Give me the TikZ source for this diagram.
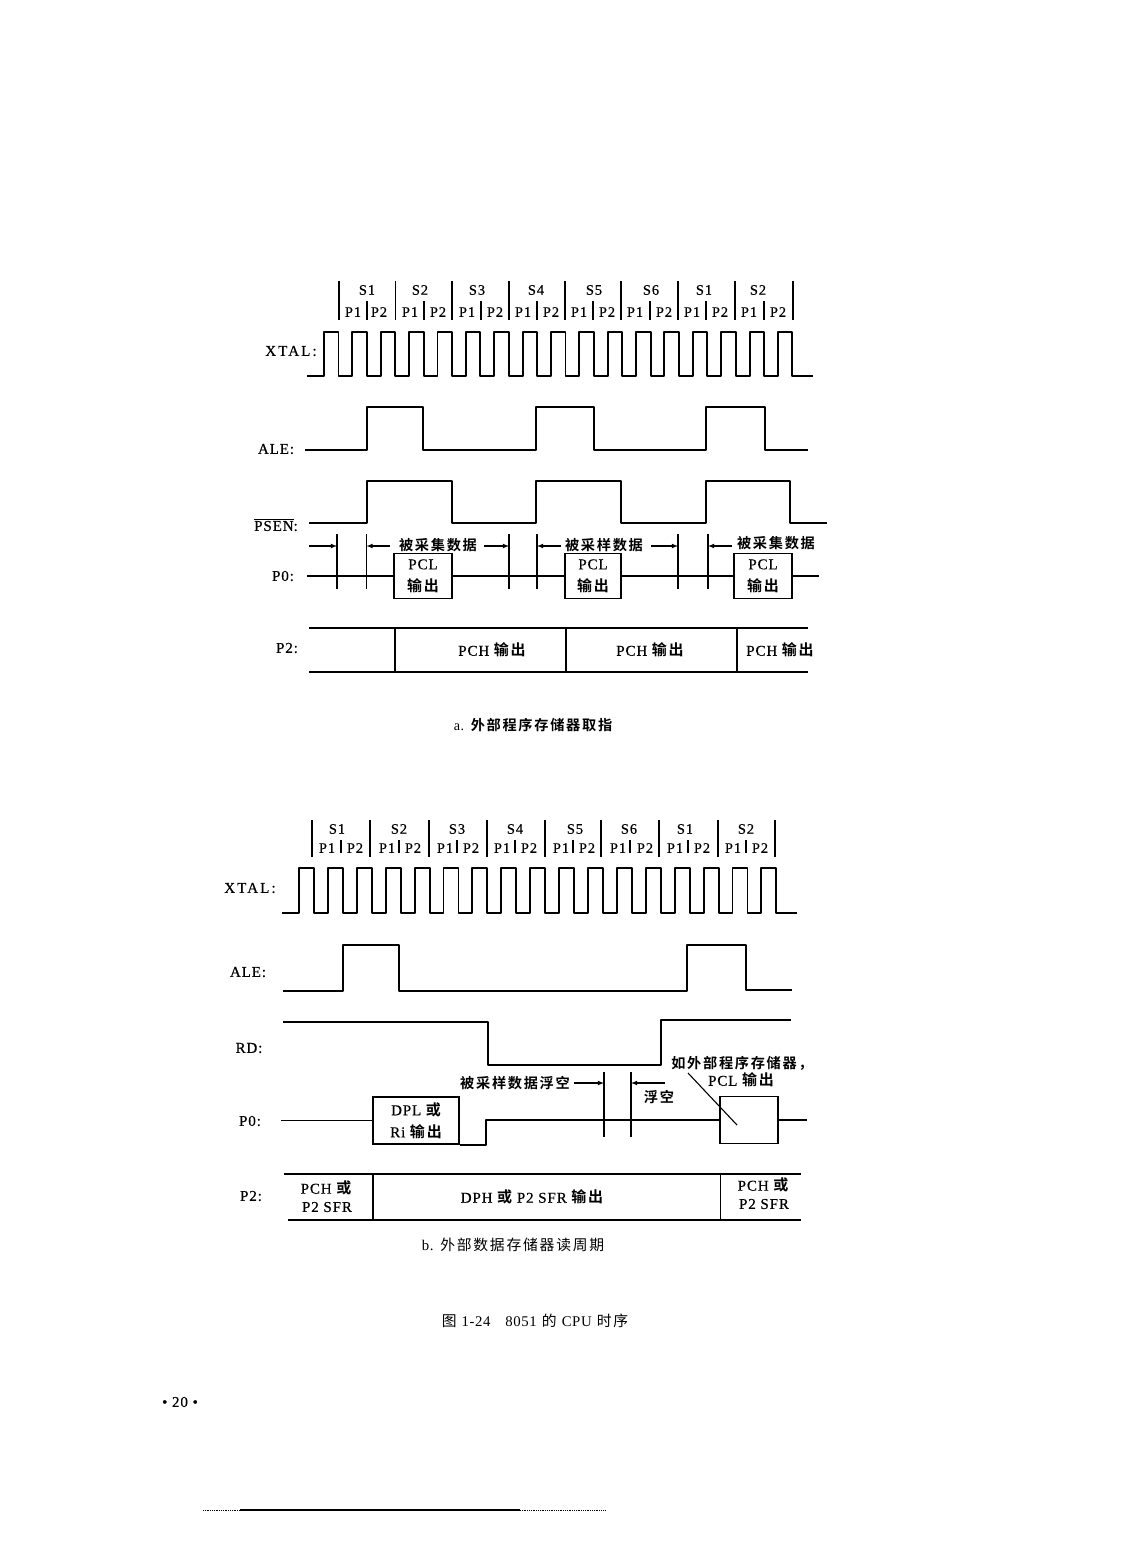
\documentclass[tikz,border=0pt]{standalone}
\usepackage{fontspec}
\setmainfont[LetterSpace=6,FakeBold=0.5]{Liberation Serif}
\newfontfamily\plainrm[LetterSpace=4]{Liberation Serif}
\newfontfamily\widerm[LetterSpace=14,FakeBold=0.5]{Liberation Serif}
\newfontfamily\cjk[LetterSpace=12]{Noto Sans CJK SC}
\newfontfamily\cjkb[LetterSpace=12]{Noto Sans CJK SC Bold}
\begin{document}
\begin{tikzpicture}[x=1pt,y=-1pt,
		wave/.style={line width=1.9pt,line join=round},
		thinw/.style={line width=1.3pt},
		tick/.style={line width=1.1pt},
		dim/.style={line width=1.1pt,-latex},
		lbl/.style={inner sep=0pt,font=\fontsize{15}{17}\selectfont},
		hdr/.style={inner sep=0pt,font=\fontsize{14.5}{17}\selectfont},
		note/.style={inner sep=0pt,font=\fontsize{14.2}{17}\selectfont\cjkb},
		caption/.style={inner sep=0pt,font=\fontsize{14.8}{17}\selectfont\cjk},
		outbox/.style={draw,line width=1.9pt,inner sep=0pt,align=center,font=\fontsize{15}{22}\selectfont}]
	\useasboundingbox (0,0) rectangle (1122,1568);
	% a: header
	\foreach \x in {339,395.5,452,509,565,621,678,735,793} \draw[tick] (\x,281) -- (\x,320);
	\foreach \x in {367,424,481,537,593,650,706,764} \draw[tick] (\x,301) -- (\x,320);
	\foreach \t/\x/\n in {S1/367/sa1,S2/420/sa2,S3/477/sa3,S4/536/sa4,S5/594/sa5,S6/651/sa6,S1/704/sa7,S2/758/sa8} \node[hdr] (\n) at (\x,290) {\t};
	\foreach \x/\n in {353/a1,410/a2,467/a3,523/a4,579/a5,635/a6,692/a7,749/a8} \node[hdr] (p\n) at (\x,312) {P1};
	\foreach \x/\n in {379/a1,438/a2,495/a3,551/a4,607/a5,664/a6,720/a7,778/a8} \node[hdr] (q\n) at (\x,312) {P2};
	% a: waves
	\node[lbl] (xtala) at (291,351) {\widerm XTAL:};
	\draw[wave] (307,376) foreach \k in {0,...,16} { -- ({324+28.37*\k},376) -- ({324+28.37*\k},332) -- ({338.5+28.37*\k},332) -- ({338.5+28.37*\k},376) } -- (813,376);
	\node[lbl] (alea) at (276,449) {ALE:};
	\draw[wave] (305,450) -- (367,450) -- (367,407) -- (423,407) -- (423,450) -- (536,450) -- (536,407) -- (594,407) -- (594,450) -- (706,450) -- (706,407) -- (765,407) -- (765,450) -- (808,450);
	\node[lbl] (psena) at (276,525) {$\overline{\mbox{PSEN}}$:};
	\draw[wave] (309,523) -- (367,523) -- (367,481) -- (452,481) -- (452,523) -- (536,523) -- (536,481) -- (621,481) -- (621,523) -- (706,523) -- (706,481) -- (790,481) -- (790,523) -- (827,523);
	% a: P0
	\node[lbl] (p0a) at (283,576) {P0:};
	\node[outbox,minimum width=58pt,minimum height=45pt] (pcl1) at (423,576) {PCL\\{\cjkb 输出}};
	\node[outbox,minimum width=56pt,minimum height=45pt] (pcl2) at (593,576) {PCL\\{\cjkb 输出}};
	\node[outbox,minimum width=58pt,minimum height=45pt] (pcl3) at (763,576) {PCL\\{\cjkb 输出}};
	\coordinate (p0as) at (307,576);
	\coordinate (p0ae) at (819,576);
	\draw[thinw] (p0as) -- (pcl1) (pcl1) -- (pcl2) (pcl2) -- (pcl3) (pcl3) -- (p0ae);
	\foreach \x in {337,366.5,509,537,678,708} \draw[tick] (\x,534) -- (\x,589);
	\draw[dim] (309,546) -- (337,546);
	\draw[dim] (390,546) -- (366.5,546);
	\draw[dim] (484,546) -- (509,546);
	\draw[dim] (561,546) -- (537,546);
	\draw[dim] (651,546) -- (678,546);
	\draw[dim] (732,546) -- (708,546);
	\node[note] (sampa1) at (438,545) {被采集数据};
	\node[note] (sampa2) at (604,545) {被采样数据};
	\node[note] (sampa3) at (776,543) {被采集数据};
	% a: P2
	\node[lbl] (p2a) at (287,648) {P2:};
	\draw[wave] (309,628) -- (808,628) (309,672) -- (808,672);
	\foreach \x in {395,566,737} \draw[thinw] (\x,628) -- (\x,672);
	\node[lbl] (pcha1) at (492,650) {PCH {\cjkb 输出}};
	\node[lbl] (pcha2) at (650,650) {PCH {\cjkb 输出}};
	\node[lbl] (pcha3) at (780,650) {PCH {\cjkb 输出}};
	\node[note] (capa) at (533,725) {{\plainrm a.} 外部程序存储器取指};
	% b: header
	\foreach \x in {312,370,429,487,545,601,659,718,775} \draw[tick] (\x,820) -- (\x,857);
	\foreach \x in {341,399,457,515,573,630,688,746} \draw[tick] (\x,840) -- (\x,853);
	\foreach \t/\x/\n in {S1/337/sb1,S2/399/sb2,S3/457/sb3,S4/515/sb4,S5/575/sb5,S6/629/sb6,S1/685/sb7,S2/746/sb8} \node[hdr] (\n) at (\x,829) {\t};
	\foreach \x/\n in {327/b1,387/b2,445/b3,502/b4,561/b5,618/b6,675/b7,733/b8} \node[hdr] (p\n) at (\x,848) {P1};
	\foreach \x/\n in {355/b1,413/b2,471/b3,529/b4,587/b5,645/b6,702/b7,760/b8} \node[hdr] (q\n) at (\x,848) {P2};
	% b: waves
	\node[lbl] (xtalb) at (250,888) {\widerm XTAL:};
	\draw[wave] (282,913) foreach \k in {0,...,16} { -- ({299+28.9*\k},913) -- ({299+28.9*\k},868) -- ({314+28.9*\k},868) -- ({314+28.9*\k},913) } -- (797,913);
	\node[lbl] (aleb) at (248,972) {ALE:};
	\draw[wave] (283,991) -- (343,991) -- (343,945) -- (399,945) -- (399,991) -- (687,991) -- (687,945) -- (746,945) -- (746,990) -- (792,990);
	\node[lbl] (rdb) at (249,1048) {RD:};
	\draw[wave] (283,1022) -- (488,1022) -- (488,1065) -- (661,1065) -- (661,1020) -- (791,1020);
	% b: P0
	\node[lbl] (p0b) at (250,1121) {P0:};
	\node[outbox,minimum width=86pt,minimum height=47pt] (dpl) at (416,1120.5) {DPL {\cjkb 或}\\Ri {\cjkb 输出}};
	\node[outbox,minimum width=58pt,minimum height=47pt] (pclb) at (749,1120) {};
	\coordinate (p0bs) at (281,1120.5);
	\coordinate (p0bm) at (486,1120);
	\coordinate (p0be) at (807,1120);
	\draw[thinw] (p0bs) -- (dpl.west);
	\draw[wave] (dpl.south east) -- (dpl.south east-|p0bm) -- (p0bm) -- (pclb.west);
	\draw[wave] (pclb.east) -- (p0be);
	\foreach \x in {604,631} \draw[tick] (\x,1072) -- (\x,1137);
	\draw[dim] (574,1083) -- (604,1083);
	\draw[dim] (665,1083) -- (631,1083);
	\node[note] (floata) at (515,1083) {被采样数据浮空};
	\node[note] (floatb) at (659,1097) {浮空};
	\node[note] (ifext) at (742,1063) {如外部程序存储器，};
	\node[lbl] (pclout) at (741,1080) {PCL {\cjkb 输出}};
	\coordinate (leadin) at (688,1073);
	\coordinate (leadout) at (737,1125);
	\draw[tick] (leadin) -- (leadout);
	% b: P2
	\node[lbl] (p2b) at (251,1196) {P2:};
	\draw[wave] (284,1174) -- (801,1174) (288,1220) -- (801,1220);
	\foreach \x in {373,720.5} \draw[wave] (\x,1174) -- (\x,1220);
	\node[lbl] (pchb1) at (326,1188) {PCH {\cjkb 或}};
	\node[lbl] (sfrb1) at (327,1207) {P2 SFR};
	\node[lbl] (dph) at (532,1197) {DPH {\cjkb 或} P2 SFR {\cjkb 输出}};
	\node[lbl] (pchb2) at (763,1185) {PCH {\cjkb 或}};
	\node[lbl] (sfrb2) at (764,1204) {P2 SFR};
	\node[caption] (capb) at (513,1245) {{\plainrm b.} 外部数据存储器读周期};
	\node[caption] (fig) at (535,1321) {图 {\plainrm 1-24\quad 8051} 的 {\plainrm CPU} 时序};
	\node[lbl] (page) at (180,1402) {• 20 •};
	\draw[thinw] (240,1510) -- (520,1510);
	\draw[densely dotted,line width=0.8pt] (203,1510) -- (240,1510) (520,1510) -- (605,1510);
\end{tikzpicture}
\end{document}
